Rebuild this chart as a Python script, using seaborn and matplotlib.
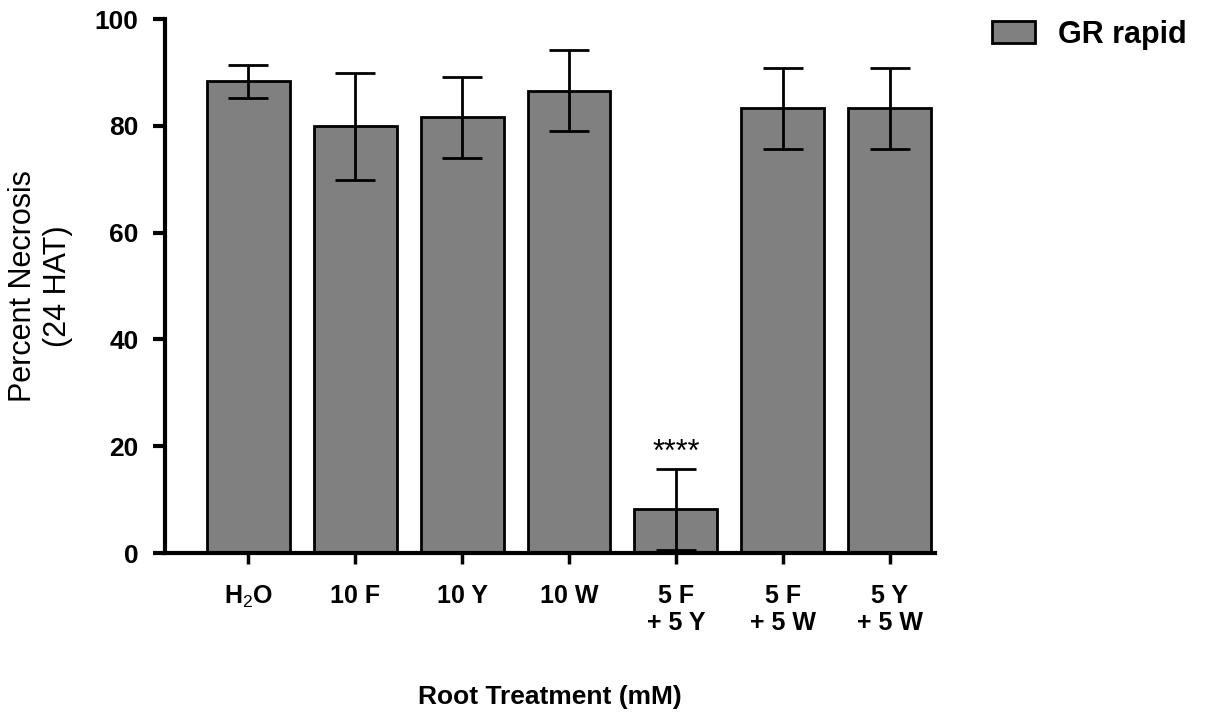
import matplotlib
matplotlib.use("Agg")
import matplotlib.pyplot as plt
import seaborn as sns
import pandas as pd

# values
treatments = ["H2O", "10 F", "10 Y", "10 W", "5 F\n+ 5 Y", "5 F\n+ 5 W", "5 Y\n+ 5 W"]
tick_labels = [r"H$_{2}$O", "10 F", "10 Y", "10 W", "5 F\n+ 5 Y", "5 F\n+ 5 W", "5 Y\n+ 5 W"]
necrosis = [88.3, 79.9, 81.6, 86.6, 8.2, 83.3, 83.3]
errors = [3.0, 10.0, 7.6, 7.6, 7.6, 7.6, 7.6]
series = "GR rapid"

df = pd.DataFrame({"treatment": treatments, "necrosis": necrosis, "group": series})

sns.set_style("ticks", {"axes.edgecolor": "black", "text.color": "black",
                        "axes.labelcolor": "black", "xtick.color": "black",
                        "ytick.color": "black"})
plt.rcParams["font.family"] = ["Liberation Sans", "DejaVu Sans"]
plt.rcParams["mathtext.fontset"] = "custom"
plt.rcParams["mathtext.rm"] = "Liberation Sans"
plt.rcParams["mathtext.bf"] = "Liberation Sans:bold"

fig = plt.figure(figsize=(12.08, 7.17), dpi=100)
ax = fig.add_axes([0.1366, 0.2287, 0.637, 0.7448])

sns.barplot(data=df, x="treatment", y="necrosis", hue="group", palette=["#808080"],
            width=0.775, edgecolor="black", linewidth=2, ax=ax, errorbar=None)
ax.errorbar(range(len(treatments)), necrosis, yerr=errors, fmt="none",
            ecolor="black", elinewidth=2, capsize=14.5, capthick=2, zorder=5)

# significance marker above the 5 F + 5 Y bar
ax.text(4, necrosis[4] + errors[4] + 1.5, "****", ha="center", va="baseline",
        fontsize=22)

ax.set_ylim(0, 100)
ax.set_xlim(-0.78, 6.42)
ax.set_yticks([0, 20, 40, 60, 80, 100])
ax.set_xticks(range(len(treatments)))
ax.set_xticklabels(tick_labels, fontsize=18, fontweight="bold")
for lbl in ax.get_yticklabels():
    lbl.set_fontsize(19)
    lbl.set_fontweight("bold")

ax.set_xlabel("Root Treatment (mM)", fontsize=19, fontweight="bold", labelpad=36)
ax.set_ylabel("Percent Necrosis\n(24 HAT)", fontsize=22, labelpad=16)

sns.despine(ax=ax)
ax.spines["left"].set_linewidth(3)
ax.spines["bottom"].set_linewidth(3)
ax.tick_params(axis="y", length=9, width=3, pad=10)
ax.tick_params(axis="x", length=8, width=2.5, pad=14)

ax.legend(loc="upper left", bbox_to_anchor=(1.039, 1.05), frameon=False,
          prop={"size": 22, "weight": "bold"}, handlelength=1.4,
          handleheight=0.72, handletextpad=0.75)

fig.savefig("out.png", dpi=100)
